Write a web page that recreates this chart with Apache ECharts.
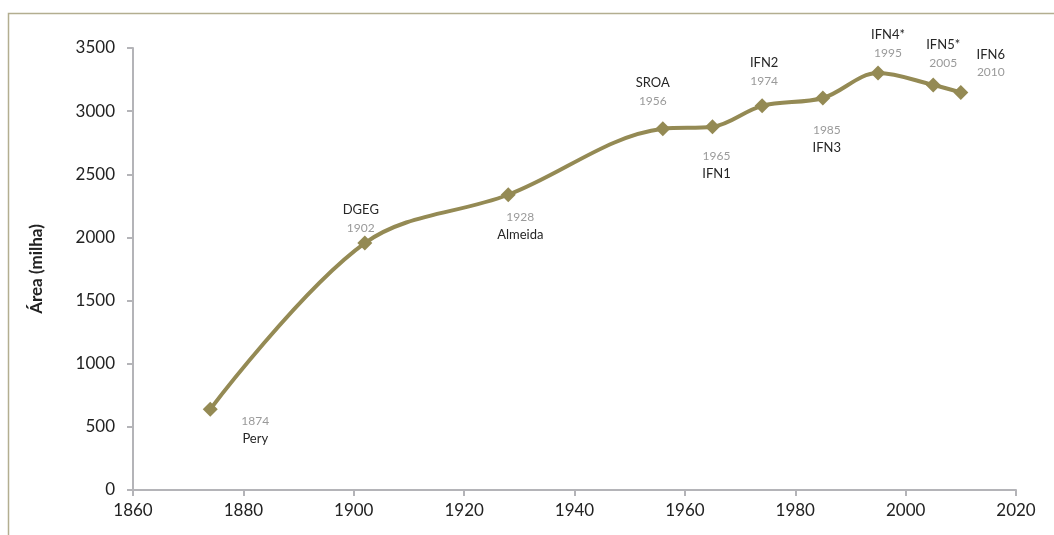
<!DOCTYPE html>
<html>
<head>
<meta charset="utf-8">
<script src="https://cdn.jsdelivr.net/npm/echarts@6/dist/echarts.min.js"></script>
<style>
  html, body { margin: 0; padding: 0; background: #fff; }
  #chart { width: 1054px; height: 535px; }
</style>
</head>
<body>
<div id="chart"></div>
<script>
  // dados
  var years = [1874, 1902, 1928, 1956, 1965, 1974, 1985, 1995, 2005, 2010];
  var areas = [640, 1955, 2338, 2860, 2876, 3042, 3104, 3302, 3207, 3148];
  var sources = ["Pery", "DGEG", "Almeida", "SROA", "IFN1", "IFN2", "IFN3", "IFN4*", "IFN5*", "IFN6"];
  var xTicks = [1860, 1880, 1900, 1920, 1940, 1960, 1980, 2000, 2020];
  var yTicks = [0, 500, 1000, 1500, 2000, 2500, 3000, 3500];

  // posição dos rótulos (deslocamento do centro do rótulo em relação ao ponto)
  var labelOffsets = [
    [45, 21], [-4, -24], [12, 31], [-10, -37], [4, 38],
    [2, -34], [4, 41], [10, -29], [10, -31], [30, -29]
  ];
  var nameFirst = [false, true, false, true, false, true, false, true, true, true];

  var FONT = "Lato, 'Open Sans', sans-serif";
  var olive = "#948a54";

  var points = years.map(function (y, i) {
    var txt = nameFirst[i]
      ? "{n|" + sources[i] + "}\n{y|" + y + "}"
      : "{y|" + y + "}\n{n|" + sources[i] + "}";
    return {
      value: [y, areas[i]],
      label: {
        show: true,
        position: "inside",
        align: "center",
        verticalAlign: "middle",
        offset: labelOffsets[i],
        formatter: txt
      }
    };
  });

  function plain(v) { return String(v); }

  var chart = echarts.init(document.getElementById("chart"));
  chart.setOption({
    animation: false,
    textStyle: { fontFamily: FONT },
    graphic: [{
      type: "rect",
      shape: { x: 8.5, y: 13.5, width: 1060, height: 540 },
      style: { fill: "none", stroke: "#b3ae90", lineWidth: 1.5 },
      silent: true
    }],
    grid: { left: 133, right: 38, top: 48, bottom: 45 },
    xAxis: {
      type: "value",
      min: xTicks[0],
      max: xTicks[xTicks.length - 1],
      interval: 20,
      axisLine: { lineStyle: { color: "#b4b4b8", width: 2 } },
      axisTick: { show: true, length: 6, lineStyle: { color: "#b4b4b8", width: 2 } },
      axisLabel: { color: "#222", fontSize: 17, margin: 12, fontFamily: FONT, formatter: plain },
      splitLine: { show: false }
    },
    yAxis: {
      type: "value",
      min: yTicks[0],
      max: yTicks[yTicks.length - 1],
      interval: 500,
      name: "Área (milha)",
      nameLocation: "middle",
      nameGap: 88,
      nameTextStyle: { color: "#222", fontSize: 17, fontWeight: "bold", fontFamily: FONT },
      axisLine: { show: true, lineStyle: { color: "#b4b4b8", width: 2 } },
      axisTick: { show: true, length: 6, lineStyle: { color: "#b4b4b8", width: 2 } },
      axisLabel: { color: "#222", fontSize: 17, margin: 18, fontFamily: FONT, formatter: plain },
      splitLine: { show: false }
    },
    series: [{
      type: "line",
      data: points,
      smooth: 0.35,
      symbol: "diamond",
      symbolSize: 15,
      lineStyle: { color: olive, width: 4 },
      itemStyle: { color: olive },
      label: {
        rich: {
          n: { color: "#262626", fontSize: 13, lineHeight: 18, fontFamily: FONT },
          y: { color: "#9a9a9a", fontSize: 12, lineHeight: 18, fontFamily: FONT }
        }
      }
    }]
  });
</script>
</body>
</html>
